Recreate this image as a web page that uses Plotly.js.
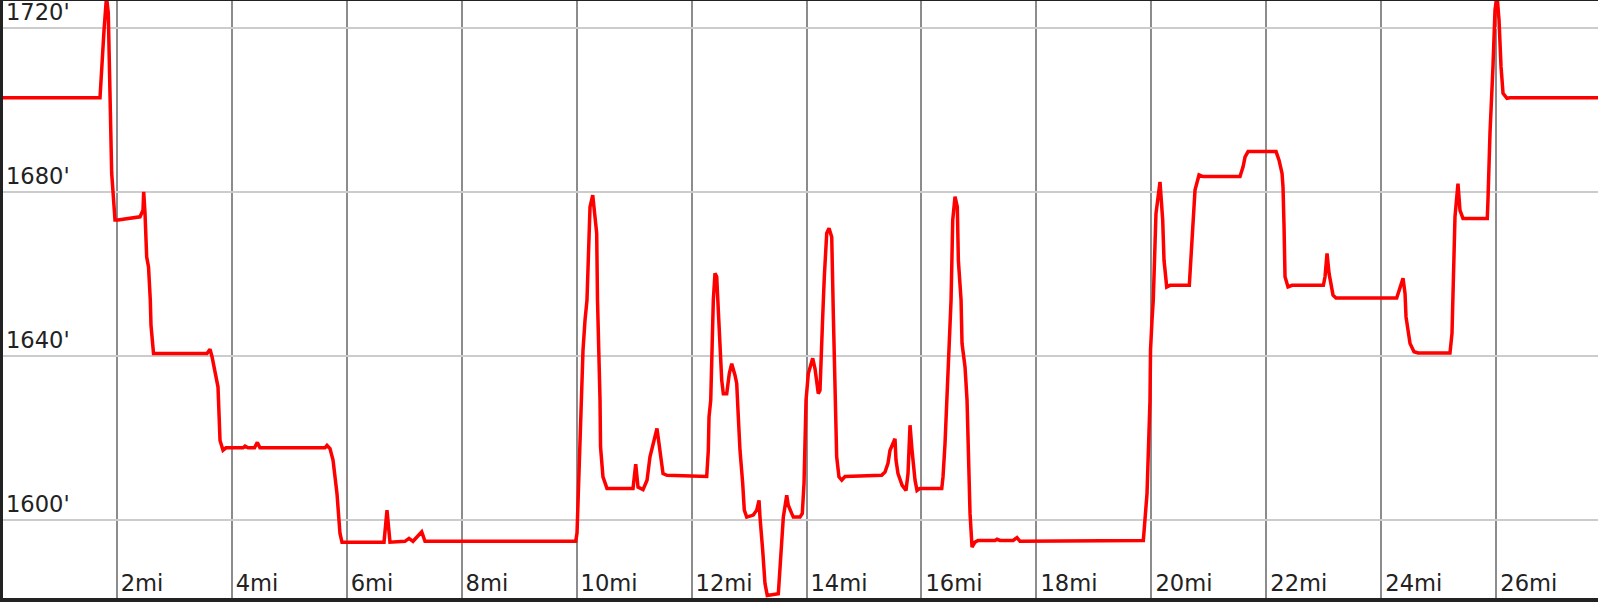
<!DOCTYPE html>
<html>
<head>
<meta charset="utf-8">
<script src="https://cdn.plot.ly/plotly-3.0.1.min.js"></script>
<style>
  html, body { margin: 0; padding: 0; background: #222; }
  #chart { width: 1598px; height: 602px; }
</style>
</head>
<body>
<div id="chart"></div>
<script>
// Distance along the route (miles)
const distanceMi = [
  0.000, 1.709, 1.779, 1.822, 1.853, 1.883, 1.892, 1.912, 1.970, 2.022,
  2.405, 2.457, 2.469, 2.492, 2.521, 2.553, 2.584, 2.596, 2.640, 2.701,
  3.570, 3.623, 3.658, 3.762, 3.779, 3.797, 3.849, 3.901, 4.197, 4.232,
  4.284, 4.397, 4.446, 4.492, 5.623, 5.658, 5.710, 5.763, 5.832, 5.884,
  5.919, 5.971, 6.650, 6.702, 6.754, 7.015, 7.085, 7.154, 7.306, 7.363,
  9.985, 10.008, 10.025, 10.060, 10.095, 10.112, 10.147, 10.181, 10.234, 10.281,
  10.350, 10.364, 10.408, 10.417, 10.459, 10.529, 10.982, 11.029, 11.069, 11.156,
  11.226, 11.277, 11.399, 11.452, 11.504, 11.573, 12.264, 12.292, 12.304, 12.334,
  12.351, 12.379, 12.408, 12.438, 12.466, 12.495, 12.525, 12.553, 12.612, 12.657,
  12.699, 12.756, 12.786, 12.814, 12.843, 12.890, 12.918, 12.960, 13.074, 13.134,
  13.174, 13.191, 13.221, 13.238, 13.278, 13.318, 13.510, 13.539, 13.569, 13.597,
  13.656, 13.683, 13.742, 13.771, 13.887, 13.927, 13.957, 13.974, 13.992, 14.032,
  14.108, 14.148, 14.205, 14.235, 14.253, 14.282, 14.310, 14.352, 14.392, 14.439,
  14.467, 14.496, 14.525, 14.565, 14.613, 14.670, 15.308, 15.366, 15.418, 15.453,
  15.540, 15.557, 15.592, 15.662, 15.731, 15.766, 15.801, 15.836, 15.888, 15.923,
  15.975, 16.353, 16.375, 16.410, 16.444, 16.497, 16.515, 16.544, 16.584, 16.624,
  16.642, 16.689, 16.706, 16.758, 16.793, 16.845, 16.880, 16.932, 16.984, 17.280,
  17.315, 17.367, 17.595, 17.662, 17.715, 19.860, 19.889, 19.924, 19.976, 19.985,
  20.011, 20.033, 20.080, 20.150, 20.197, 20.220, 20.267, 20.324, 20.660, 20.702,
  20.759, 20.829, 20.899, 21.542, 21.595, 21.630, 21.682, 22.169, 22.221, 22.273,
  22.290, 22.308, 22.325, 22.377, 22.447, 22.992, 23.021, 23.056, 23.091, 23.160,
  23.212, 24.268, 24.309, 24.378, 24.413, 24.430, 24.500, 24.569, 24.639, 25.195,
  25.230, 25.247, 25.282, 25.334, 25.369, 25.421, 25.844, 25.856, 25.891, 25.943,
  25.978, 26.013, 26.048, 26.083, 26.118, 26.187, 26.239, 27.800
];

// Elevation (feet)
const elevationFt = [
  1702.9, 1702.9, 1719.4, 1727.5, 1723.6, 1707.2, 1694.3, 1684.6, 1673.1, 1673.1,
  1673.9, 1675.5, 1680.0, 1674.8, 1664.1, 1661.7, 1653.6, 1647.5, 1640.6, 1640.6,
  1640.6, 1641.6, 1639.8, 1632.4, 1626.0, 1619.4, 1617.0, 1617.6, 1617.6, 1618.0,
  1617.6, 1617.6, 1618.9, 1617.6, 1617.6, 1618.2, 1617.4, 1614.6, 1606.4, 1596.7,
  1594.6, 1594.6, 1594.6, 1602.4, 1594.6, 1594.8, 1595.5, 1594.8, 1597.1, 1594.8,
  1594.8, 1596.8, 1604.8, 1619.4, 1637.3, 1641.4, 1648.7, 1653.6, 1676.3, 1679.2,
  1669.9, 1653.6, 1629.2, 1617.8, 1610.5, 1607.7, 1607.7, 1613.6, 1608.0, 1607.4,
  1609.7, 1615.4, 1622.3, 1616.2, 1611.3, 1610.9, 1610.6, 1617.0, 1625.1, 1629.2,
  1641.4, 1653.6, 1660.1, 1659.3, 1651.1, 1641.4, 1634.1, 1630.8, 1630.8, 1635.7,
  1638.1, 1635.3, 1633.3, 1625.1, 1617.0, 1608.9, 1602.4, 1600.7, 1601.2, 1602.4,
  1604.8, 1600.7, 1596.7, 1592.6, 1584.5, 1581.6, 1582.0, 1588.5, 1595.0, 1600.7,
  1606.0, 1603.6, 1601.6, 1600.7, 1600.7, 1601.6, 1608.9, 1617.0, 1629.2, 1635.7,
  1639.4, 1636.9, 1630.8, 1631.6, 1641.4, 1649.5, 1659.3, 1669.9, 1671.1, 1669.0,
  1650.0, 1626.8, 1615.4, 1610.5, 1609.7, 1610.6, 1610.9, 1611.7, 1613.8, 1617.0,
  1619.8, 1614.6, 1611.3, 1608.5, 1607.2, 1611.3, 1623.1, 1617.0, 1609.7, 1607.2,
  1607.7, 1607.7, 1610.5, 1618.6, 1629.2, 1645.5, 1653.6, 1673.1, 1678.8, 1676.3,
  1663.3, 1653.6, 1643.0, 1637.3, 1629.2, 1601.6, 1593.4, 1594.6, 1595.0, 1595.0,
  1595.3, 1595.0, 1595.0, 1595.7, 1594.8, 1595.0, 1600.7, 1606.4, 1629.2, 1641.4,
  1648.7, 1653.6, 1674.7, 1682.4, 1673.1, 1663.3, 1656.8, 1657.2, 1657.2, 1666.6,
  1680.4, 1684.1, 1683.7, 1683.7, 1686.1, 1688.5, 1689.8, 1689.8, 1687.7, 1684.5,
  1681.2, 1671.5, 1659.3, 1656.8, 1657.2, 1657.2, 1659.3, 1665.0, 1660.1, 1654.8,
  1654.1, 1654.1, 1656.0, 1658.9, 1655.2, 1649.5, 1643.0, 1641.0, 1640.7, 1640.7,
  1645.5, 1653.6, 1673.9, 1682.0, 1675.5, 1673.5, 1673.5, 1678.0, 1694.3, 1710.5,
  1724.3, 1728.0, 1721.9, 1710.5, 1704.0, 1702.8, 1702.9, 1702.9
];

const xRange = [0.0214, 27.770];
const yRange = [1580.98, 1726.51];

const labelFont = { family: 'DejaVu Sans', size: 22.6, color: '#222222' };

const trace = {
  x: distanceMi,
  y: elevationFt,
  type: 'scatter',
  mode: 'lines',
  line: { color: '#ff0000', width: 3.5 },
  hoverinfo: 'skip'
};

const layout = {
  width: 1598,
  height: 602,
  margin: { l: 3, r: 0, t: 1, b: 4, pad: 0 },
  paper_bgcolor: '#222222',
  plot_bgcolor: '#ffffff',
  showlegend: false,
  xaxis: {
    range: xRange,
    tick0: 0,
    dtick: 2,
    ticksuffix: 'mi',
    ticks: '',
    ticklabelposition: 'inside right',
    ticklabeloverflow: 'allow',
    ticklabelshift: 4,
    ticklabelstandoff: -4,
    tickfont: labelFont,
    showgrid: true,
    gridcolor: '#8c8c8c',
    gridwidth: 2,
    zeroline: false,
    showline: false,
    fixedrange: true
  },
  yaxis: {
    range: yRange,
    tick0: 0,
    dtick: 40,
    ticksuffix: "'",
    ticks: '',
    ticklabelposition: 'inside top',
    ticklabeloverflow: 'allow',
    tickfont: labelFont,
    showgrid: true,
    gridcolor: '#cccccc',
    gridwidth: 2,
    zeroline: false,
    showline: false,
    fixedrange: true
  }
};

Plotly.newPlot('chart', [trace], layout, { displayModeBar: false, staticPlot: true });
</script>
</body>
</html>
